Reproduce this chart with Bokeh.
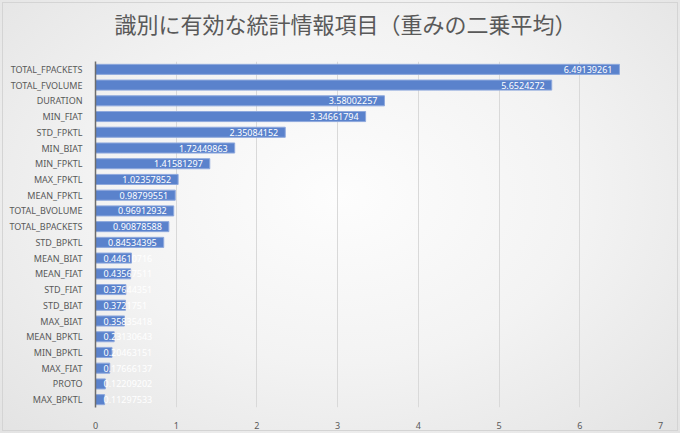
from bokeh.plotting import figure
from bokeh.models import ColumnDataSource, FactorRange, FixedTicker, Title
from bokeh.embed import file_html
from bokeh.core.properties import value
from bokeh.resources import INLINE

categories = ["TOTAL_FPACKETS", "TOTAL_FVOLUME", "DURATION", "MIN_FIAT", "STD_FPKTL",
              "MIN_BIAT", "MIN_FPKTL", "MAX_FPKTL", "MEAN_FPKTL", "TOTAL_BVOLUME",
              "TOTAL_BPACKETS", "STD_BPKTL", "MEAN_BIAT", "MEAN_FIAT", "STD_FIAT",
              "STD_BIAT", "MAX_BIAT", "MEAN_BPKTL", "MIN_BPKTL", "MAX_FIAT",
              "PROTO", "MAX_BPKTL"]
values = [6.49139261, 5.6524272, 3.58002257, 3.34661794, 2.35084152,
          1.72449863, 1.41581297, 1.02357852, 0.98799551, 0.96912932,
          0.90878588, 0.84534395, 0.44610716, 0.43567511, 0.37644351,
          0.3721751, 0.35835418, 0.23130643, 0.20463151, 0.17666137,
          0.12209202, 0.11297533]
labels = ["6.49139261", "5.6524272", "3.58002257", "3.34661794", "2.35084152",
          "1.72449863", "1.41581297", "1.02357852", "0.98799551", "0.96912932",
          "0.90878588", "0.84534395", "0.44610716", "0.43567511", "0.37644351",
          "0.3721751", "0.35835418", "0.23130643", "0.20463151", "0.17666137",
          "0.12209202", "0.11297533"]
x_ticks = [0, 1, 2, 3, 4, 5, 6, 7]
title_text = "識別に有効な統計情報項目（重みの二乗平均）"

TXT = "#595959"

p = figure(width=680, height=433, output_backend="svg", toolbar_location=None,
           y_range=FactorRange(*reversed(categories), range_padding=0),
           x_range=(0, 7),
           min_border_left=95, min_border_right=20, min_border_top=60,
           min_border_bottom=26)
p.background_fill_alpha = 0
p.border_fill_alpha = 0
p.outline_line_color = None
p.styles = {"outline": "1px solid #d4d4d4", "outline-offset": "-3px",
            "background": "radial-gradient(ellipse at 50% 45%, #fdfdfd 0%, #f3f3f3 50%, #e3e3e3 100%)"}

p.title = Title(text=title_text, align="left", offset=19, standoff=8,
                text_font="Noto Sans CJK JP", text_font_size="22px",
                text_color=TXT, text_font_style="normal")
# spacer between title and plot area
p.add_layout(Title(text=" ", text_font_size="16px", standoff=0), "above")

src = ColumnDataSource(dict(cat=categories, val=values, lab=labels))
p.hbar(y="cat", right="val", left=0, height=0.64, source=src,
       fill_color="#5a82cc", line_color="#8fa9dd", line_width=1)

big = [i for i, v in enumerate(values) if v >= 0.8]
small = [i for i, v in enumerate(values) if v < 0.8]
src_big = ColumnDataSource(dict(cat=[categories[i] for i in big], val=[values[i] for i in big],
                                lab=[labels[i] for i in big]))
src_small = ColumnDataSource(dict(cat=[categories[i] for i in small], zero=[0] * len(small),
                                  lab=[labels[i] for i in small]))
p.text(x="val", y="cat", text="lab", source=src_big, text_align="right",
       text_baseline="middle", x_offset=-7, text_color="white",
       text_font=value("Noto Sans"), text_font_size="9px")
p.text(x="zero", y="cat", text="lab", source=src_small, text_align="left",
       text_baseline="middle", x_offset=8, text_color="white",
       text_font=value("Noto Sans"), text_font_size="9px")

p.xaxis.ticker = FixedTicker(ticks=x_ticks)
p.xaxis.axis_line_color = None
p.xaxis.major_tick_line_color = None
p.xaxis.minor_tick_line_color = None
p.xaxis.major_label_standoff = 8
p.xaxis.major_label_text_font = "Noto Sans"
p.xaxis.major_label_text_font_size = "9px"
p.xaxis.major_label_text_color = TXT

p.yaxis.axis_line_color = "#6d6d6d"
p.yaxis.axis_line_width = 1.5
p.yaxis.major_tick_line_color = None
p.yaxis.minor_tick_line_color = None
p.yaxis.major_label_standoff = 7
p.yaxis.major_label_text_font = "Noto Sans"
p.yaxis.major_label_text_font_size = "9px"
p.yaxis.major_label_text_color = TXT

p.xgrid.grid_line_color = "#d9d9d9"
p.ygrid.grid_line_color = None

open("out.html", "w").write(file_html(p, INLINE))
